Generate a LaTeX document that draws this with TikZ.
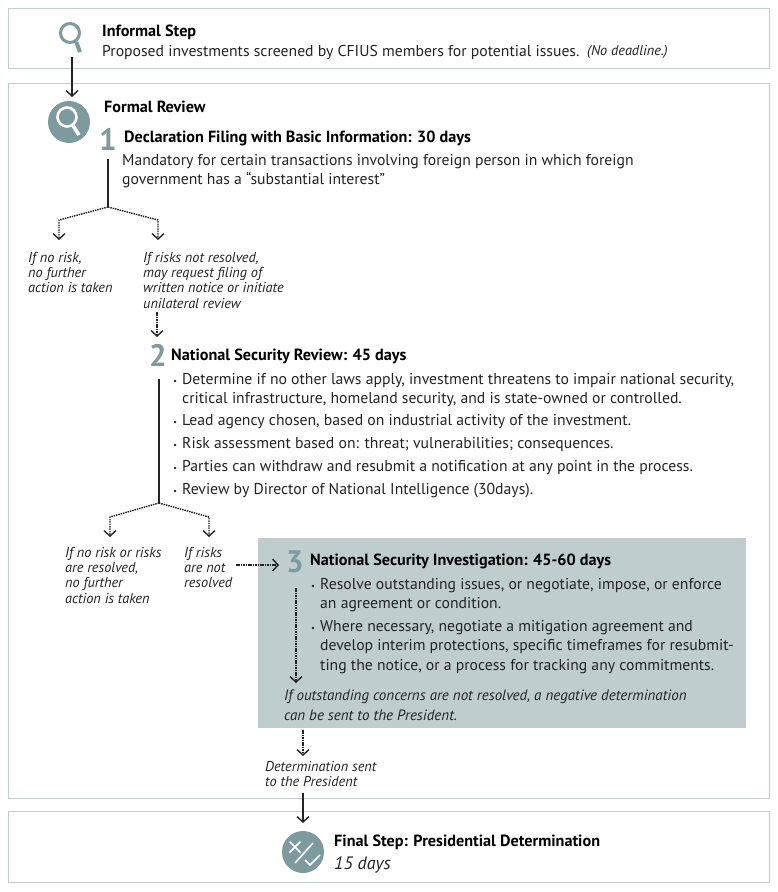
\documentclass[tikz,border=0pt]{standalone}
\usepackage{fontspec}
\usepackage{xcolor}
\setmainfont{PT Sans}
\usetikzlibrary{arrows.meta, positioning}
\definecolor{panelline}{RGB}{192, 206, 207}
\definecolor{panelfill}{RGB}{191, 205, 207}
\definecolor{iconteal}{RGB}{125, 154, 158}
\definecolor{inkdark}{RGB}{35, 35, 35}

\begin{document}
\begin{tikzpicture}[
    x=1pt, y=-1pt,
    panel/.style={rectangle, draw=panelline, line width=1.4pt, minimum width=761pt, anchor=north west, inner sep=0pt},
    body/.style={anchor=north west, inner sep=0pt, align=left, font=\fontsize{15.7}{19.4}\selectfont, text=inkdark},
    head/.style={anchor=north west, inner sep=0pt, font=\fontsize{16.2}{19}\selectfont\bfseries, text=black},
    note/.style={anchor=north west, inner sep=0pt, align=left, font=\fontsize{14.3}{15.3}\selectfont\itshape, text=inkdark},
    numeral/.style={anchor=center, inner sep=0pt, font=\fontsize{31}{31}\selectfont\bfseries, text=iconteal},
    bulletdot/.style={circle, fill=inkdark, inner sep=0pt, minimum size=2.8pt},
    badge/.style={circle, fill=iconteal, inner sep=0pt, minimum size=42pt},
    solidarrow/.style={-{Straight Barb[length=5.5pt, width=12pt]}, line width=1.4pt, draw=inkdark},
    dotarrow/.style={-{Straight Barb[length=5.5pt, width=12pt]}, line width=1.4pt, draw=inkdark, dash pattern=on 1.5pt off 0.9pt},
    stem/.style={line width=1.5pt, draw=inkdark}
]
    \useasboundingbox (0,0) rectangle (778,892);

    % Panels
    \node[panel, minimum height=60pt] (informal) at (8,8) {};
    \node[panel, minimum height=715pt] (formal) at (8,83) {};
    \node[panel, minimum height=71pt] (final) at (8,811) {};
    \node[rectangle, fill=panelfill, anchor=north west, inner sep=0pt, minimum width=488pt, minimum height=190pt] (invest) at (258,538) {};

    % Icons
    \node[circle, draw=iconteal, line width=3pt, inner sep=0pt, minimum size=19pt] (lens) at (70,33) {};
    \draw[iconteal, line width=4pt] (lens.-55) -- (80,52);
    \node[badge] (formalicon) at (69,122) {};
    \node[circle, draw=white, line width=2.6pt, inner sep=0pt, minimum size=19pt] (formallens) at (67,117) {};
    \draw[white, line width=3.6pt] (formallens.-55) -- (79,135);
    \node[badge] (finalicon) at (303,852) {};
    \draw[white, line width=1.6pt] (289.5,841.5) -- (300.5,852.5) (300.5,841.5) -- (289.5,852.5);
    \draw[white, line width=1.6pt] (295,863) -- (313,843);
    \draw[white, line width=1.6pt] (305,860) -- (310,865) -- (320,855);

    % Informal step
    \node[head] (informalhead) at (102,25) {Informal Step};
    \node[body] (informaltext) at (102,45) {Proposed investments screened by CFIUS members for potential issues.};
    \node[note, anchor=base west] (deadline) at (587,55) {(No deadline.)};

    % Formal review, step 1
    \node[head] (formalhead) at (104,101) {Formal Review};
    \node[numeral] (one) at (108,139) {1};
    \node[head] (onehead) at (124,131) {Declaration Filing with Basic Information: 30 days};
    \node[body] (onetext) at (122,154) {Mandatory for certain transactions involving foreign person in which foreign\\government has a “substantial interest”};
    \node[note] (norisk) at (28,252) {If no risk,\\no further\\action is taken};
    \node[note] (notresolved) at (143,252) {If risks not resolved,\\may request filing of\\written notice or initiate\\unilateral review};

    % Step 2
    \node[numeral] (two) at (158,355) {2};
    \node[head] (twohead) at (171,349) {National Security Review: 45 days};
    \node[body] (rev1) at (182,373) {Determine if no other laws apply, investment threatens to impair national security,\\critical infrastructure, homeland security, and is state-owned or controlled.};
    \node[body] (rev2) at (182,414) {Lead agency chosen, based on industrial activity of the investment.};
    \node[body] (rev3) at (182,437) {Risk assessment based on: threat; vulnerabilities; consequences.};
    \node[body] (rev4) at (182,460) {Parties can withdraw and resubmit a notification at any point in the process.};
    \node[body] (rev5) at (182,483) {Review by Director of National Intelligence (30days).};
    \foreach \y in {381,422,445,468,491}
        \node[bulletdot] at (175,\y) {};
    \node[note] (resolved) at (65,547) {If no risk or risks\\are resolved,\\no further\\action is taken};
    \node[note] (risksopen) at (184,547) {If risks\\are not\\resolved};

    % Step 3
    \node[numeral] (three) at (295,562) {3};
    \node[head] (threehead) at (310,554) {National Security Investigation: 45-60 days};
    \node[body] (inv1) at (320,578) {Resolve outstanding issues, or negotiate, impose, or enforce\\an agreement or condition.};
    \node[body] (inv2) at (320,620) {Where necessary, negotiate a mitigation agreement and\\develop interim protections, specific timeframes for resubmit-\\ting the notice, or a process for tracking any commitments.};
    \foreach \y in {586,628}
        \node[bulletdot] at (313,\y) {};
    \node[note, font=\fontsize{15}{20}\selectfont\itshape] (negative) at (284,690) {If outstanding concerns are not resolved, a negative determination\\can be sent to the President.};
    \node[note] (sent) at (265,761) {Determination sent\\to the President};

    % Final step
    \node[head] (finalhead) at (334,835) {Final Step: Presidential Determination};
    \node[note, font=\fontsize{18}{18}\selectfont\itshape] (days) at (334,856) {15 days};

    % Branch points
    \coordinate (infofoot) at (72,57);
    \coordinate (onefoot) at (108,159);
    \coordinate (onesplit) at (108,207);
    \coordinate (twofoot) at (159,379);
    \coordinate (twosplit) at (159,503);

    % Arrows
    \draw[solidarrow] (infofoot) -- (72,97);
    \draw[stem] (onefoot) -- (onesplit);
    \draw[dotarrow] (onesplit) -- (59,220) -- (59,240);
    \draw[dotarrow] (onesplit) -- (158,220) -- (158,240);
    \draw[dotarrow] (157,312) -- (157,337);
    \draw[stem] (twofoot) -- (twosplit);
    \draw[dotarrow] (twosplit) -- (110,517) -- (110,537);
    \draw[dotarrow] (twosplit) -- (209,517) -- (209,537);
    \draw[dotarrow] (236,565) -- (279,565);
    \draw[dotarrow] (296,588) -- (296,683);
    \draw[dotarrow] (303,730) -- (303,756);
    \draw[solidarrow] (303,793) -- (303,823);
\end{tikzpicture}
\end{document}
